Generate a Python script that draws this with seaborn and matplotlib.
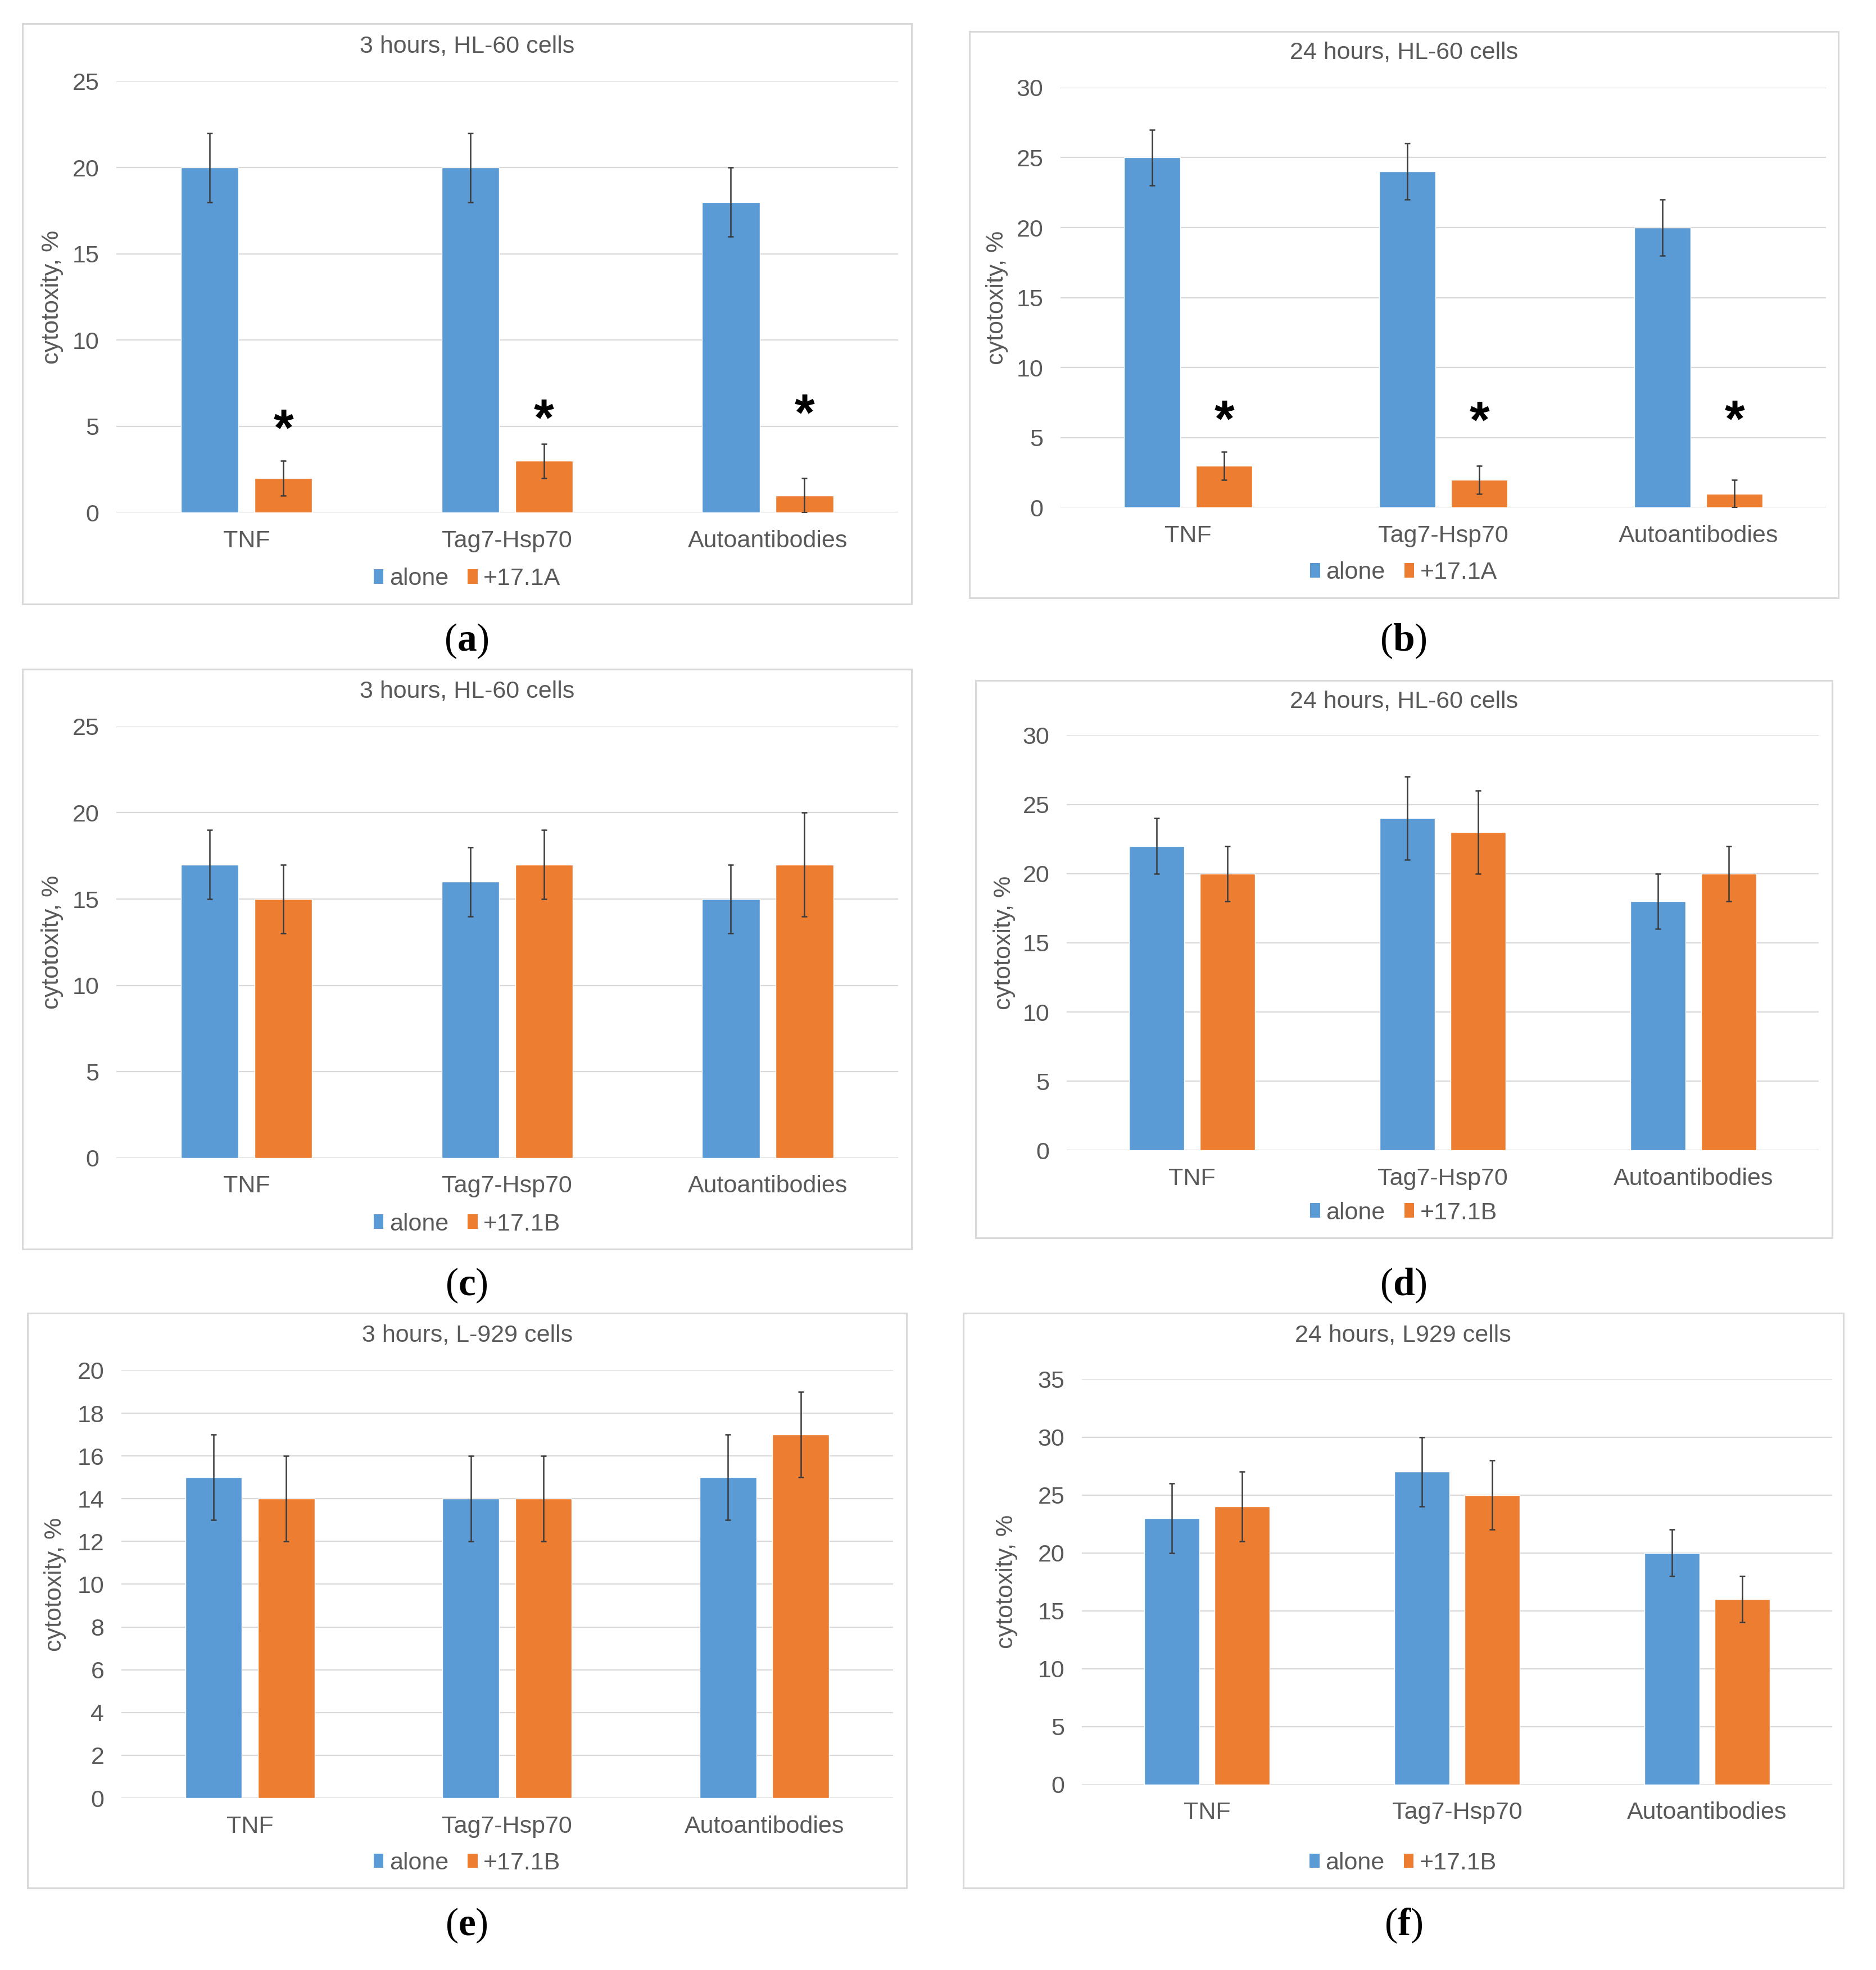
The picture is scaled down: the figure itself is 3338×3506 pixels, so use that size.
import matplotlib
matplotlib.use("Agg")
import matplotlib.pyplot as plt
import seaborn as sns
import pandas as pd
from matplotlib.patches import Rectangle, Patch

# ---------------- data ----------------
categories = ["TNF", "Tag7-Hsp70", "Autoantibodies"]

a_title = "3 hours, HL-60 cells"
a_alone = [20, 20, 18]
a_alone_err = [2, 2, 2]
a_treat = [2, 3, 1]
a_treat_err = [1, 1, 1]
a_treat_label = "+17.1A"
a_star = [5.6, 6.2, 6.5]

b_title = "24 hours, HL-60 cells"
b_alone = [25, 24, 20]
b_alone_err = [2, 2, 2]
b_treat = [3, 2, 1]
b_treat_err = [1, 1, 1]
b_treat_label = "+17.1A"
b_star = [7.2, 7.1, 7.2]

c_title = "3 hours, HL-60 cells"
c_alone = [17, 16, 15]
c_alone_err = [2, 2, 2]
c_treat = [15, 17, 17]
c_treat_err = [2, 2, 3]
c_treat_label = "+17.1B"

d_title = "24 hours, HL-60 cells"
d_alone = [22, 24, 18]
d_alone_err = [2, 3, 2]
d_treat = [20, 23, 20]
d_treat_err = [2, 3, 2]
d_treat_label = "+17.1B"

e_title = "3 hours, L-929 cells"
e_alone = [15, 14, 15]
e_alone_err = [2, 2, 2]
e_treat = [14, 14, 17]
e_treat_err = [2, 2, 2]
e_treat_label = "+17.1B"

f_title = "24 hours, L929 cells"
f_alone = [23, 27, 20]
f_alone_err = [3, 3, 2]
f_treat = [24, 25, 16]
f_treat_err = [3, 3, 2]
f_treat_label = "+17.1B"

alone_label = "alone"
y_label = "cytotoxity, %"
captions = ["a", "b", "c", "d", "e", "f"]

# ---------------- style ----------------
BLUE = "#5B9BD5"
ORANGE = "#ED7D31"
GRID = "#D9D9D9"
TEXT = "#595959"
FS = 31

sns.set_theme(style="white")
plt.rcParams["font.family"] = ["Liberation Sans", "DejaVu Sans"]
plt.rcParams["mathtext.fontset"] = "custom"
plt.rcParams["mathtext.rm"] = "Liberation Serif"
plt.rcParams["mathtext.bf"] = "Liberation Serif:bold"

fig = plt.figure(figsize=(33.38, 35.06), dpi=100)
fig.patch.set_facecolor("white")

DW, DH = 1500.0, 1575.5


def fx(x):
    return x / DW


def fy(y):
    return 1 - y / DH


panels = [
    dict(title=a_title, alone=a_alone, ae=a_alone_err, treat=a_treat, te=a_treat_err, tl=a_treat_label,
         star=a_star, box=(18, 19, 729, 483), axb=(93, 65, 718, 410), ymax=25, step=5,
         title_y=37, legend_y=463, ylab_x=42, cap=(373, 513)),
    dict(title=b_title, alone=b_alone, ae=b_alone_err, treat=b_treat, te=b_treat_err, tl=b_treat_label,
         star=b_star, box=(775, 25, 1470, 478), axb=(848, 70, 1460, 406), ymax=30, step=5,
         title_y=42, legend_y=458, ylab_x=797, cap=(1122, 513)),
    dict(title=c_title, alone=c_alone, ae=c_alone_err, treat=c_treat, te=c_treat_err, tl=c_treat_label,
         star=None, box=(18, 535, 729, 999), axb=(93, 581, 718, 926), ymax=25, step=5,
         title_y=553, legend_y=979, ylab_x=42, cap=(373, 1028)),
    dict(title=d_title, alone=d_alone, ae=d_alone_err, treat=d_treat, te=d_treat_err, tl=d_treat_label,
         star=None, box=(780, 544, 1465, 990), axb=(853, 588, 1454, 920), ymax=30, step=5,
         title_y=561, legend_y=970, ylab_x=803, cap=(1122, 1028)),
    dict(title=e_title, alone=e_alone, ae=e_alone_err, treat=e_treat, te=e_treat_err, tl=e_treat_label,
         star=None, box=(22, 1050, 725, 1510), axb=(97, 1096, 714, 1438), ymax=20, step=2,
         title_y=1068, legend_y=1490, ylab_x=44, cap=(373, 1540)),
    dict(title=f_title, alone=f_alone, ae=f_alone_err, treat=f_treat, te=f_treat_err, tl=f_treat_label,
         star=None, box=(770, 1050, 1474, 1510), axb=(865, 1103, 1465, 1427), ymax=35, step=5,
         title_y=1068, legend_y=1490, ylab_x=805, cap=(1122, 1540)),
]

for p, cap in zip(panels, captions):
    x0, y0, x1, y1 = p["box"]
    fig.add_artist(Rectangle((fx(x0), fy(y1)), fx(x1) - fx(x0), fy(y0) - fy(y1),
                             transform=fig.transFigure, fill=False, edgecolor=GRID, linewidth=2.2))
    ax0, ay0, ax1, ay1 = p["axb"]
    ax = fig.add_axes([fx(ax0), fy(ay1), fx(ax1) - fx(ax0), fy(ay0) - fy(ay1)])

    df = pd.DataFrame({
        "category": categories * 2,
        "condition": [alone_label] * 3 + [p["tl"]] * 3,
        "value": list(p["alone"]) + list(p["treat"]),
    })
    sns.barplot(data=df, x="category", y="value", hue="condition",
                palette=[BLUE, ORANGE], width=0.565, gap=0.22, errorbar=None,
                saturation=1, legend=False, ax=ax, zorder=3)

    for cont, vals, errs in zip(ax.containers, [p["alone"], p["treat"]], [p["ae"], p["te"]]):
        xs = [b.get_x() + b.get_width() / 2 for b in cont]
        ax.errorbar(xs, vals, yerr=errs, fmt="none", ecolor="#3a3a3a",
                    elinewidth=1.8, capsize=3.5, capthick=1.8, zorder=4)

    if p["star"] is not None:
        xs = [b.get_x() + b.get_width() / 2 for b in ax.containers[1]]
        sfs = 66
        for xv, sv in zip(xs, p["star"]):
            ax.annotate("*", xy=(xv, sv), xytext=(0, -0.57 * sfs), textcoords="offset points",
                        ha="center", va="baseline", fontsize=sfs, fontweight="bold", color="black")

    ax.set_xlim(-0.5, 2.5)
    ax.set_ylim(0, p["ymax"])
    ax.set_yticks(list(range(0, p["ymax"] + 1, p["step"])))
    ax.yaxis.grid(True, color=GRID, linewidth=1.6, zorder=0)
    ax.xaxis.grid(False)
    ax.set_axisbelow(True)
    for s in ax.spines.values():
        s.set_visible(False)
    ax.set_facecolor("white")
    ax.tick_params(axis="y", length=0, labelsize=FS, labelcolor=TEXT, pad=22)
    ax.tick_params(axis="x", length=0, labelsize=FS, labelcolor=TEXT, pad=22)
    ax.set_xlabel("")
    ax.set_ylabel("")

    cx = (x0 + x1) / 2
    fig.text(fx(cx), fy(p["title_y"]), p["title"], ha="center", va="center",
             fontsize=FS, color=TEXT)
    fig.text(fx(p["ylab_x"]), fy((ay0 + ay1) / 2), y_label, rotation=90,
             ha="center", va="center", fontsize=FS, color=TEXT)

    handles = [Patch(facecolor=BLUE, edgecolor="none"), Patch(facecolor=ORANGE, edgecolor="none")]
    fig.legend(handles, [alone_label, p["tl"]], loc="center",
               bbox_to_anchor=(fx(cx), fy(p["legend_y"])), ncol=2, frameon=False,
               fontsize=FS, labelcolor=TEXT, handlelength=0.4, handleheight=0.55,
               handletextpad=0.25, columnspacing=0.8, borderpad=0, borderaxespad=0)

    fig.text(fx(p["cap"][0]), fy(p["cap"][1]), "(" + r"$\mathbf{" + cap + "}$" + ")",
             ha="center", va="center", fontsize=50, color="black",
             family=["Liberation Serif", "DejaVu Serif"])

fig.savefig("out.png", dpi=100, facecolor="white")
